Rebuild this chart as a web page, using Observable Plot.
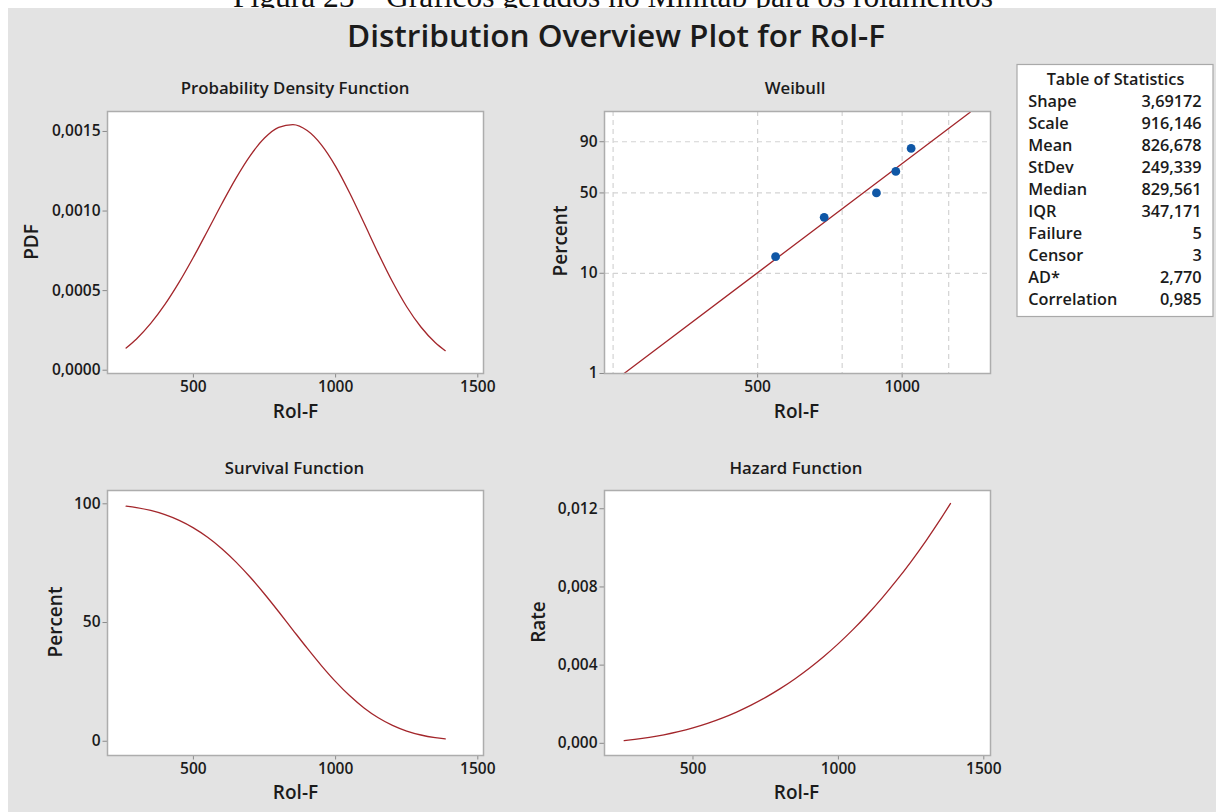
<!DOCTYPE html>
<html>
<head>
<meta charset="utf-8">
<script src="https://cdn.jsdelivr.net/npm/d3@7"></script>
<script src="https://cdn.jsdelivr.net/npm/@observablehq/plot@0.6"></script>
<style>
  html, body { margin: 0; padding: 0; background: #ffffff; }
  #root { position: relative; width: 1216px; height: 812px; overflow: hidden; background: #ffffff; }
  #bg { position: absolute; left: 7.5px; top: 7.5px; right: 0; bottom: 0; background: #e3e3e3; }
  .panel { position: absolute; }
  .panel text { font-weight: 600; }
  #overlay { position: absolute; left: 0; top: 0; pointer-events: none; }
</style>
</head>
<body>
<div id="root">
  <svg id="caption" width="1216" height="20" style="position:absolute;left:0;top:0"></svg>
  <div id="bg"></div>
</div>
<script>
// ---------------- data ----------------
const captionText = "Figura 25 – Gráficos gerados no Minitab para os rolamentos";
const mainTitle = "Distribution Overview Plot for Rol-F";
const panelTitles = ["Probability Density Function", "Weibull", "Survival Function", "Hazard Function"];
const xLabel = "Rol-F";
const yLabels = ["PDF", "Percent", "Percent", "Rate"];

// sample positions along the fitted curves (Rol-F)
const curveX = [263.5, 300, 350, 400, 450, 500, 550, 600, 650, 700, 750, 800, 850,
                900, 950, 1000, 1050, 1100, 1150, 1200, 1250, 1300, 1350, 1385.5];
// probability density read at those positions
const pdfValues = [0.0001394, 0.0001964, 0.0002937, 0.0004132, 0.0005530, 0.0007095, 0.0008765,
                   0.0010458, 0.0012071, 0.0013486, 0.0014584, 0.0015258, 0.0015429, 0.0015058,
                   0.0014162, 0.0012811, 0.0011121, 0.0009246, 0.0007342, 0.0005554, 0.0003988,
                   0.0002714, 0.0001744, 0.0001227];
// survival percent
const survivalValues = [99.0, 98.39, 97.18, 95.42, 93.01, 89.86, 85.90, 81.09, 75.45, 69.05, 62.02,
                        54.54, 46.84, 39.20, 31.88, 25.11, 19.12, 14.02, 9.88, 6.67, 4.29, 2.63, 1.52, 1.0];
// hazard rate
const hazardValues = [0.0001408, 0.0001996, 0.0003023, 0.0004330, 0.0005946, 0.0007895, 0.0010204,
                      0.0012897, 0.0015998, 0.0019530, 0.0023515, 0.0027977, 0.0032936, 0.0038413,
                      0.0044431, 0.0051011, 0.0058168, 0.0065933, 0.0074309, 0.0083327, 0.0093006,
                      0.010336, 0.011441, 0.012270];

// Weibull probability plot
const failureTimes = [545, 688, 884, 970, 1044];
const failurePercent = [14.4, 32.4, 50.0, 68.3, 86.0];
const fitLineX = [263.5, 1385.5];
const fitLinePercent = [1, 99];
const weibullTickPercent = [1, 10, 50, 90];
const weibullGridPercent = [10, 50, 90];
const weibullGridX = [250, 500, 750, 1000, 1250];
const weibullTickX = [500, 1000];

// axis ticks
const linearTickX = [500, 1000, 1500];
const pdfTicks = [0, 0.0005, 0.0010, 0.0015];
const survivalTicks = [0, 50, 100];
const hazardTicks = [0, 0.004, 0.008, 0.012];

// table of statistics
const statTitle = "Table of Statistics";
const statLabels = ["Shape", "Scale", "Mean", "StDev", "Median", "IQR", "Failure", "Censor", "AD*", "Correlation"];
const statValues = ["3,69172", "916,146", "826,678", "249,339", "829,561", "347,171", "5", "3", "2,770", "0,985"];

// ---------------- styles ----------------
const FONT = '"Open Sans", "Noto Sans", sans-serif';
const TEXT = "#1b1b1b";
const RED = "#a3262b";
const BLUE = "#0f57a6";
const FRAME = "#adadad";
const TICK = "#8a8a8a";
const GRID = "#d3d3d3";

const root = document.getElementById("root");
const comma = (n) => (d) => d.toFixed(n).replace(".", ",");
const wy = (p) => Math.log(-Math.log(1 - p / 100));

function panel({left, top, width, height, ml, mt, mr, mb, x, y, marks}) {
  const svg = Plot.plot({
    width, height,
    marginLeft: ml, marginTop: mt, marginRight: mr, marginBottom: mb,
    x, y,
    style: {background: "transparent", fontFamily: FONT, fontSize: "15.5px", fontWeight: "600", color: TEXT, overflow: "visible"},
    marks
  });
  svg.classList.add("panel");
  svg.style.position = "absolute";
  svg.style.left = left + "px";
  svg.style.top = top + "px";
  root.appendChild(svg);
}

const axisCommon = {tickSize: 4.5, stroke: TICK, fill: TEXT, label: null, fontSize: 15.5, fontWeight: 600};

// PDF
panel({
  left: 0, top: 100, width: 500, height: 320, ml: 107, mt: 11, mr: 17, mb: 47,
  x: {domain: [198, 1520]},
  y: {domain: [-0.0000207, 0.0016254]},
  marks: [
    Plot.frame({fill: "white", stroke: null}),
    Plot.line(curveX, {x: curveX, y: pdfValues, stroke: RED, strokeWidth: 1.3, curve: "monotone-x"}),
    Plot.axisX(linearTickX, {...axisCommon, tickPadding: 2.5, tickFormat: (d) => String(d)}),
    Plot.axisY(pdfTicks, {...axisCommon, tickPadding: 2.5, tickFormat: comma(4)}),
    Plot.frame({stroke: FRAME, strokeWidth: 1.5})
  ]
});

// Weibull probability plot
panel({
  left: 500, top: 100, width: 500, height: 320, ml: 104, mt: 11, mr: 10, mb: 47,
  x: {type: "log", domain: [239.9, 1527.6]},
  y: {domain: [wy(1), 1.5428]},
  marks: [
    Plot.frame({fill: "white", stroke: null}),
    Plot.ruleX(weibullGridX, {stroke: GRID, strokeWidth: 1.2, strokeDasharray: "5,4"}),
    Plot.ruleY(weibullGridPercent.map(wy), {stroke: GRID, strokeWidth: 1.2, strokeDasharray: "5,4"}),
    Plot.line(fitLineX, {x: fitLineX, y: fitLinePercent.map(wy), stroke: RED, strokeWidth: 1.3}),
    Plot.dot(failureTimes, {x: failureTimes, y: failurePercent.map(wy), r: 4.4, fill: BLUE, stroke: null}),
    Plot.axisX(weibullTickX, {...axisCommon, tickPadding: 2.5, tickFormat: (d) => String(d)}),
    Plot.axisY(weibullTickPercent.map(wy), {...axisCommon, tickPadding: 2.5,
      tickFormat: (d) => String(weibullTickPercent[weibullTickPercent.findIndex((p) => Math.abs(wy(p) - d) < 1e-9)])}),
    Plot.frame({stroke: FRAME, strokeWidth: 1.5})
  ]
});

// Survival
panel({
  left: 0, top: 480, width: 500, height: 320, ml: 107, mt: 10, mr: 17, mb: 45,
  x: {domain: [198, 1520]},
  y: {domain: [-6.0, 105.6]},
  marks: [
    Plot.frame({fill: "white", stroke: null}),
    Plot.line(curveX, {x: curveX, y: survivalValues, stroke: RED, strokeWidth: 1.3, curve: "monotone-x"}),
    Plot.axisX(linearTickX, {...axisCommon, tickPadding: 2.5, tickFormat: (d) => String(d)}),
    Plot.axisY(survivalTicks, {...axisCommon, tickPadding: 2.5, tickFormat: (d) => String(d)}),
    Plot.frame({stroke: FRAME, strokeWidth: 1.5})
  ]
});

// Hazard
panel({
  left: 500, top: 480, width: 500, height: 320, ml: 104, mt: 10, mr: 10, mb: 45,
  x: {domain: [195.8, 1523]},
  y: {domain: [-0.000623, 0.012934]},
  marks: [
    Plot.frame({fill: "white", stroke: null}),
    Plot.line(curveX, {x: curveX, y: hazardValues, stroke: RED, strokeWidth: 1.3, curve: "monotone-x"}),
    Plot.axisX(linearTickX, {...axisCommon, tickPadding: 2.5, tickFormat: (d) => String(d)}),
    Plot.axisY(hazardTicks, {...axisCommon, tickPadding: 2.5, tickFormat: comma(3)}),
    Plot.frame({stroke: FRAME, strokeWidth: 1.5})
  ]
});

// ---------------- caption (cut off at the top, as in the reference) ----------------
d3.select("#caption").append("text")
  .attr("x", 613).attr("y", 6.5).attr("text-anchor", "middle")
  .attr("font-family", '"Liberation Serif", "Times New Roman", serif')
  .attr("font-size", 31.5).attr("fill", "#111")
  .text(captionText);

// ---------------- text overlay ----------------
const ov = d3.select(root).append("svg").attr("id", "overlay")
  .attr("width", 1216).attr("height", 812)
  .style("font-family", FONT).style("font-weight", 600).attr("fill", TEXT);

ov.append("text").attr("x", 616).attr("y", 47).attr("text-anchor", "middle")
  .attr("font-size", 30).attr("textLength", 538).attr("lengthAdjust", "spacingAndGlyphs")
  .text(mainTitle);

const titlePos = [[295, 93.5], [795, 93.5], [294.5, 473.5], [796, 473.5]];
panelTitles.forEach((t, i) => {
  ov.append("text").attr("x", titlePos[i][0]).attr("y", titlePos[i][1])
    .attr("text-anchor", "middle").attr("font-size", 16.8).text(t);
});

const xLabelPos = [[295.5, 417.5], [796.5, 417.5], [295.5, 799], [796.5, 799]];
xLabelPos.forEach(([x, y]) => {
  ov.append("text").attr("x", x).attr("y", y).attr("text-anchor", "middle")
    .attr("font-size", 19).text(xLabel);
});

const yLabelPos = [[38.3, 242], [566.5, 241], [61.5, 622], [545, 622]];
yLabels.forEach((t, i) => {
  const [x, y] = yLabelPos[i];
  ov.append("text").attr("transform", `translate(${x},${y}) rotate(-90)`)
    .attr("text-anchor", "middle").attr("font-size", 19).text(t);
});

// table of statistics
ov.append("rect").attr("x", 1017).attr("y", 64.5).attr("width", 196).attr("height", 252)
  .attr("fill", "white").attr("stroke", "#a9a9a9").attr("stroke-width", 1.2);
ov.append("text").attr("x", 1115.5).attr("y", 85).attr("text-anchor", "middle")
  .attr("font-size", 16.3).text(statTitle);
statLabels.forEach((lab, i) => {
  const yy = 106.7 + i * 22.03;
  ov.append("text").attr("x", 1028.3).attr("y", yy).attr("font-size", 16.3).text(lab);
  ov.append("text").attr("x", 1201.7).attr("y", yy).attr("text-anchor", "end")
    .attr("font-size", 16.3).text(statValues[i]);
});
</script>
</body>
</html>
